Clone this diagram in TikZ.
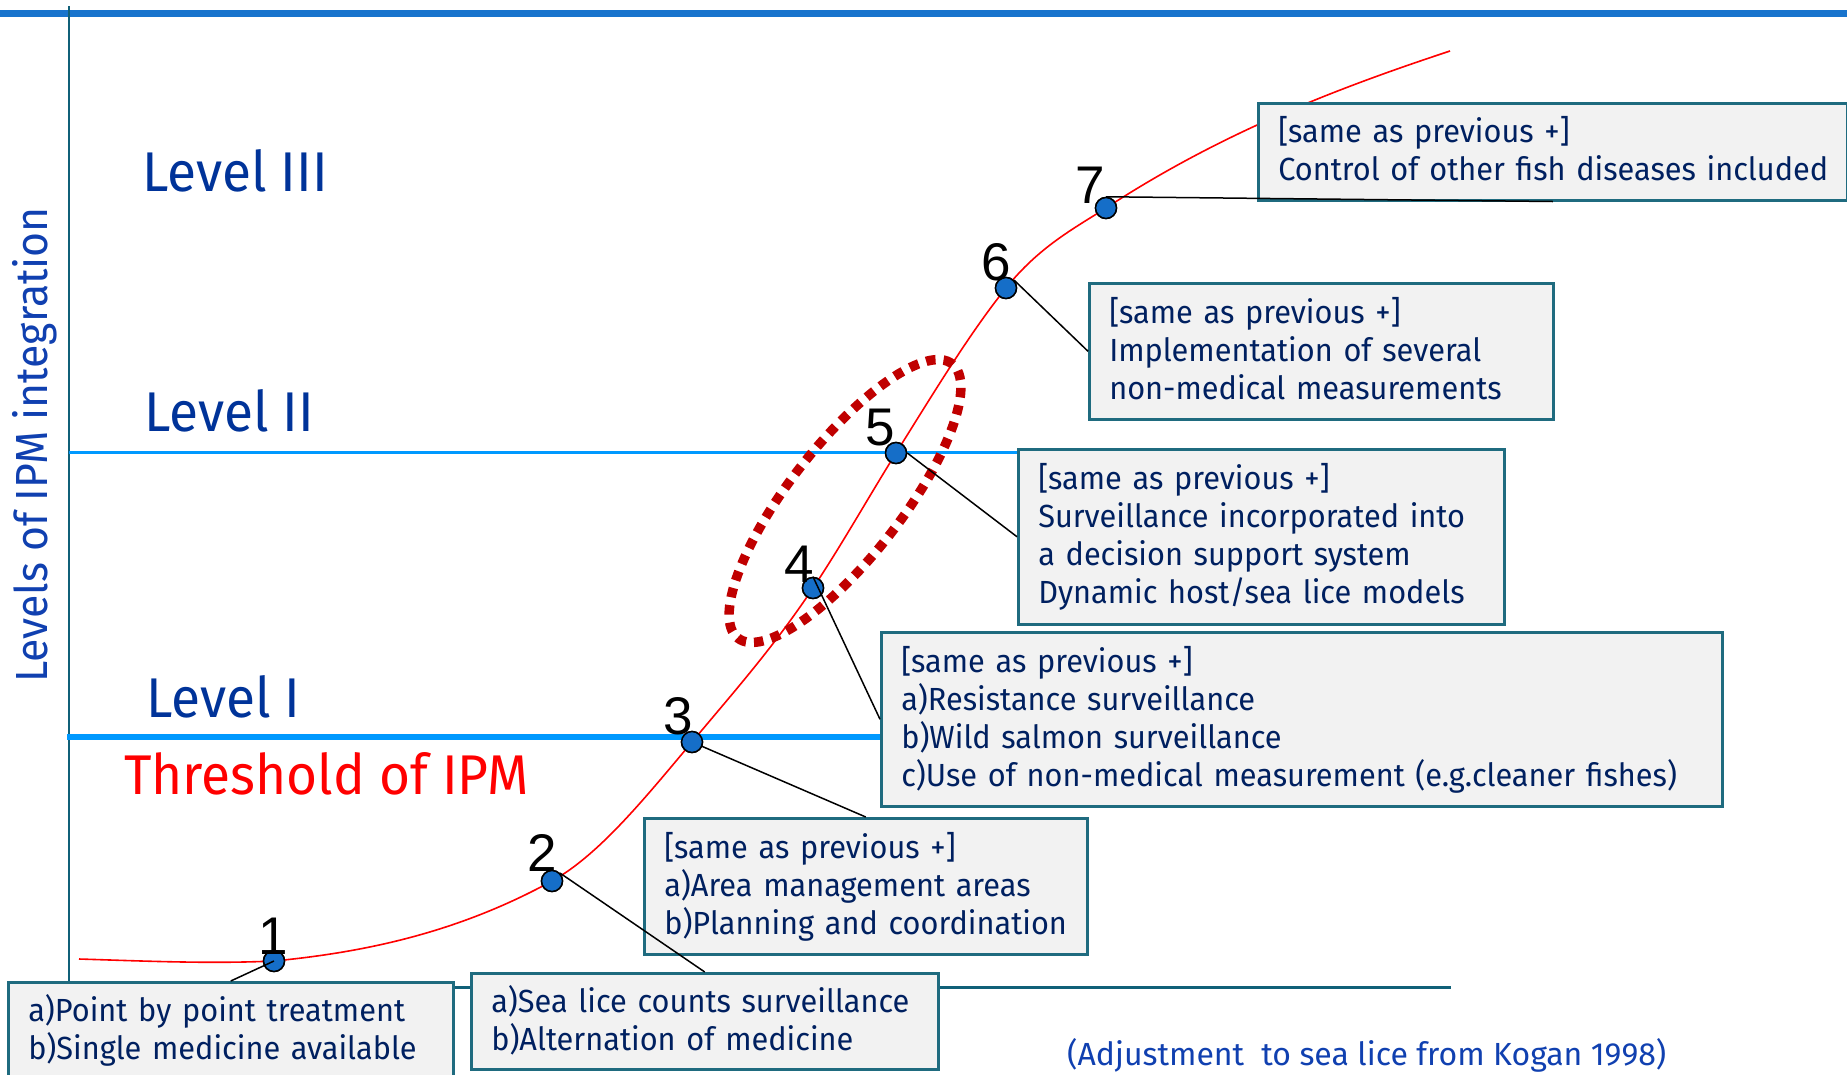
\documentclass[tikz,border=0pt]{standalone}
\usepackage{fontspec}
\setmainfont{Fira Sans}
\newfontfamily\numfont{Liberation Sans}
\newfontfamily\boxfont[FakeStretch=0.96]{Fira Sans}
\newfontfamily\lvlfont[FakeStretch=0.95]{Fira Sans}
\usetikzlibrary{calc}
\definecolor{topblue}{RGB}{24,116,205}
\definecolor{axisteal}{RGB}{16,96,120}
\definecolor{lvlblue}{RGB}{0,51,153}
\definecolor{ylblue}{RGB}{16,64,176}
\definecolor{linblue}{RGB}{0,153,255}
\definecolor{boxfill}{RGB}{242,242,242}
\definecolor{boxedge}{RGB}{31,107,127}
\definecolor{boxtext}{RGB}{0,32,96}
\definecolor{dotblue}{RGB}{21,110,200}
\definecolor{ellred}{RGB}{192,0,0}
\newcommand\topst{\rule{0pt}{30pt}}
\newcommand\botst{\rule[-10pt]{0pt}{10pt}}
\begin{document}
\begin{tikzpicture}[x=1pt,y=-1pt,
  infobox/.style={draw=boxedge, line width=2.5pt, fill=boxfill, anchor=north west,
    inner xsep=20pt, inner ysep=0pt, align=left, text=boxtext,
    font=\boxfont\fontsize{32}{38}\selectfont},
  dot/.style={circle, draw=black, line width=1.5pt, fill=dotblue, inner sep=0pt, minimum size=21pt},
  numlbl/.style={font=\numfont\fontsize{53}{53}\selectfont, inner sep=0pt, text=black},
  lvl/.style={font=\lvlfont\fontsize{56}{56}\selectfont, text=lvlblue, anchor=base west, inner sep=0pt},
  conn/.style={draw=black, line width=1.5pt}]
\useasboundingbox (0,0) rectangle (1847,1074);

% axes
\draw[topblue, line width=7pt] (0,13) -- (1847,13);
\coordinate (axtop) at (69,6);
\coordinate (axbot) at (69,987);
\coordinate (axend) at (1451,987);
\draw[axisteal, line width=3pt] (axbot) -- (axend);
\draw[axisteal, line width=2.7pt] (axtop) -- (axbot);

% lower boxes
\path (7,981) node[infobox, text width=405pt, minimum height=97pt] (b1)
  {\topst\mbox{a)Point by point treatment}\\ \mbox{b)Single medicine available}\botst};
\path (470,972) node[infobox, text width=427pt, minimum height=96pt] (b2)
  {\topst\mbox{a)Sea lice counts surveillance}\\ \mbox{b)Alternation of medicine}\botst};

\coordinate (l2s) at (69,452);
\coordinate (l1s) at (67,737);

% dots
\node[dot] (d1) at (274,961) {};
\node[dot] (d2) at (552,881) {};
\node[dot] (d3) at (692,742) {};
\node[dot] (d4) at (813,588) {};
\node[dot] (d5) at (896,453) {};
\node[dot] (d6) at (1006,288) {};
\node[dot] (d7) at (1106,208) {};
\coordinate (cs) at (79,959);
\coordinate (ce) at (1450,51);

% curve
\draw[red, line width=1.6pt]
  (cs) .. controls (144,961) and (209,964) .. (d1.center)
       .. controls (367,952) and (459,932) .. (d2.center)
       .. controls (599,855) and (645,798) .. (d3.center)
       .. controls (732,694) and (773,648) .. (d4.center)
       .. controls (841,546) and (868,498) .. (d5.center)
       .. controls (933,394) and (969,334) .. (d6.center)
       .. controls (1039,247) and (1073,229) .. (d7.center)
       .. controls (1221,133) and (1335,89) .. (ce);
\foreach \d in {d1,d2,d4,d7} {\node[dot] at (\d) {};}

\path (643,817) node[infobox, text width=403pt, minimum height=136pt] (b3)
  {\topst\mbox{[same as previous +]}\\ \mbox{a)Area management areas}\\ \mbox{b)Planning and coordination}\botst};
\path (880,631) node[infobox, text width=801pt, minimum height=174pt] (b4)
  {\topst\mbox{[same as previous +]}\\ \mbox{a)Resistance surveillance}\\ \mbox{b)Wild salmon surveillance}\\ \mbox{c)Use of non-medical measurement (e.g.cleaner fishes)}\botst};
\path (1017,448) node[infobox, text width=446pt, minimum height=175pt] (b5)
  {\topst\mbox{[same as previous +]}\\ \mbox{Surveillance incorporated into}\\ \mbox{a decision support system}\\ \mbox{Dynamic host/sea lice models}\botst};
\path (1088,282) node[infobox, text width=424pt, minimum height=136pt] (b6)
  {\topst\mbox{[same as previous +]}\\ \mbox{Implementation of several}\\ \mbox{non-medical measurements}\botst};
\path (1257,102) node[infobox, text width=549pt, minimum height=97pt] (b7)
  {\topst\mbox{[same as previous +]}\\ \mbox{Control of other fish diseases included}\botst};

% level lines
\draw[linblue, line width=3pt] (l2s) -- (l2s -| b5.west);
\draw[linblue, line width=6pt] (l1s) -- (l1s -| b4.west);

% dotted ellipse
\coordinate (ec) at (845,501);
\draw[ellred, line width=9.5pt, dash pattern=on 9.5pt off 8pt, rotate around={52:(ec)}]
  (ec) ellipse [x radius=174pt, y radius=56pt];

% connectors
\draw[conn] (d1.center) -- (b1.north);
\draw[conn] (d2.north east) -- (b2.north);
\draw[conn] (d3.center) -- (b3.north);
\draw[conn] (d4.north) -- (b4.west);
\draw[conn] (d5.east) -- (b5.west);
\draw[conn] (d6.north east) -- (b6.west);
\draw[conn] (d7.north) -- (b7.south);
\foreach \d in {d3,d5,d6} {\node[dot] at (\d) {};}

% numbers
\node[numlbl] (n1) at (273,936) {1};
\node[numlbl] (n2) at (542,853) {2};
\node[numlbl] (n3) at (678,716) {3};
\node[numlbl] (n4) at (799,564) {4};
\node[numlbl] (n5) at (880,428) {5};
\node[numlbl] (n6) at (996,262) {6};
\node[numlbl] (n7) at (1090,185) {7};

% labels
\node[lvl] (lv3) at (142,191) {Level III};
\node[lvl] (lv2) at (144,431) {Level II};
\node[lvl] (lv1) at (146,717) {Level I};
\node[lvl, text=red] (thr) at (124,794) {Threshold of IPM};
\node[font=\lvlfont\fontsize{45}{45}\selectfont, text=ylblue, rotate=90, inner sep=0pt] (ylab) at (35,445) {Levels of IPM integration};
\node[font=\fontsize{32}{32}\selectfont, text=ylblue, anchor=base west, inner sep=0pt] (src) at (1067,1065) {(Adjustment\ \ to sea lice from Kogan 1998)};
\end{tikzpicture}
\end{document}
